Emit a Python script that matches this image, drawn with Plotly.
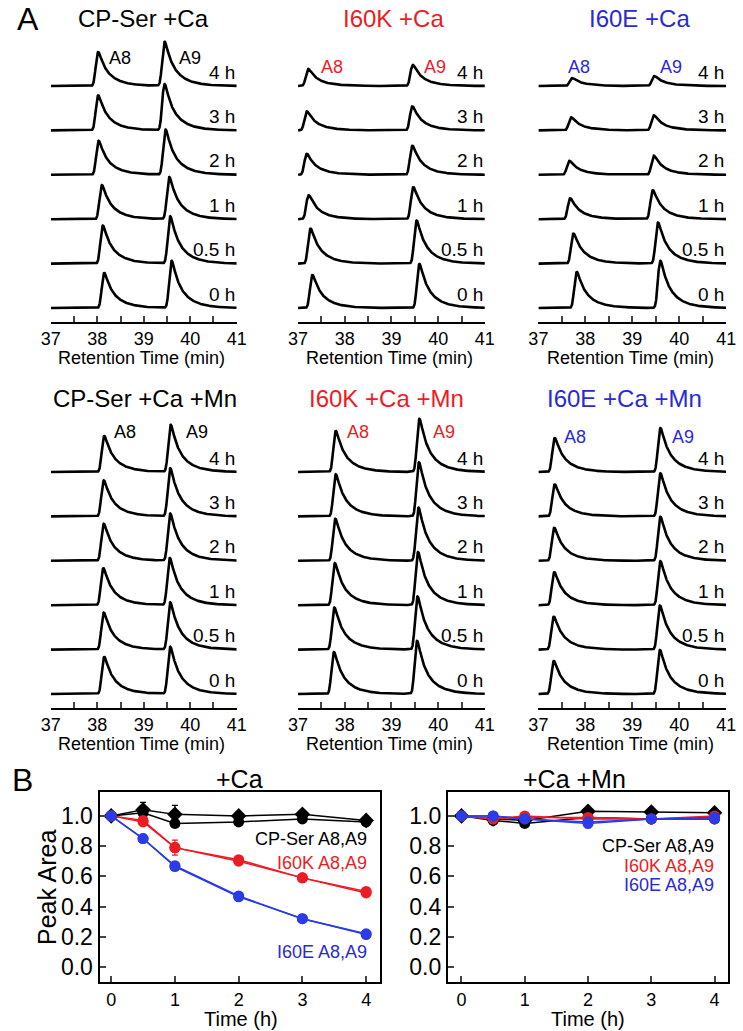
import numpy as np
import plotly.graph_objects as go

W, H = 743, 1031
FONT = "Liberation Sans, Arial, Helvetica, sans-serif"
RED = "#ec1c24"
BLUE = "#2b3be6"
BLUE_TXT = "#2a2ad2"

times = ["0 h", "0.5 h", "1 h", "2 h", "3 h", "4 h"]

# chromatogram peaks: retention time (min) and height, 0 h first
cp_ca_a8_rt = [38.15, 38.12, 38.10, 38.03, 38.02, 38.02]
cp_ca_a8_h = [35, 38, 34, 34, 35, 34]
cp_ca_a9_rt = [39.60, 39.57, 39.55, 39.47, 39.45, 39.45]
cp_ca_a9_h = [47, 47, 42, 45, 46, 44]

k_ca_a8_rt = [37.31, 37.27, 37.23, 37.19, 37.19, 37.22]
k_ca_a8_h = [33, 35, 24, 21, 19, 17]
k_ca_a9_rt = [39.60, 39.54, 39.47, 39.45, 39.45, 39.46]
k_ca_a9_h = [44, 43, 32, 29, 24, 21]

e_ca_a8_rt = [37.82, 37.75, 37.68, 37.66, 37.70, 37.72]
e_ca_a8_h = [36, 30, 21, 14, 13, 8]
e_ca_a9_rt = [39.60, 39.55, 39.44, 39.46, 39.46, 39.47]
e_ca_a9_h = [47, 41, 29, 19, 15, 10]

cp_mn_a8_rt = [38.15, 38.14, 38.13, 38.14, 38.14, 38.15]
cp_mn_a8_h = [37, 37, 37, 37, 36, 36]
cp_mn_a9_rt = [39.57, 39.57, 39.56, 39.57, 39.57, 39.58]
cp_mn_a9_h = [47, 47, 47, 47, 48, 47]

k_mn_a8_rt = [37.77, 37.78, 37.79, 37.80, 37.81, 37.81]
k_mn_a8_h = [42, 42, 42, 42, 42, 41]
k_mn_a9_rt = [39.55, 39.56, 39.57, 39.58, 39.59, 39.60]
k_mn_a9_h = [53, 53, 53, 53, 54, 53]

e_mn_a8_rt = [37.33, 37.33, 37.34, 37.34, 37.35, 37.35]
e_mn_a8_h = [33, 33, 33, 33, 32, 34]
e_mn_a9_rt = [39.59, 39.59, 39.60, 39.60, 39.60, 39.60]
e_mn_a9_h = [44, 44, 44, 44, 43, 44]

# peak area vs time
t_hours = [0, 0.5, 1, 2, 3, 4]
ca_cp_a8 = [1.0, 1.04, 1.01, 1.0, 1.01, 0.97]
ca_cp_a8_err = [0, 0.05, 0.06, 0.02, 0.02, 0.01]
ca_cp_a9 = [1.0, 1.02, 0.95, 0.96, 0.98, 0.96]
ca_cp_a9_err = [0, 0.02, 0.02, 0.02, 0.01, 0.01]
ca_k_a8 = [1.0, 0.97, 0.79, 0.71, 0.59, 0.50]
ca_k_a8_err = [0, 0.02, 0.05, 0.02, 0.02, 0.02]
ca_k_a9 = [1.0, 0.96, 0.79, 0.70, 0.59, 0.49]
ca_k_a9_err = [0, 0.02, 0.03, 0.02, 0.01, 0.02]
ca_e_a8 = [1.0, 0.85, 0.67, 0.47, 0.32, 0.22]
ca_e_a8_err = [0, 0.01, 0.01, 0.01, 0.01, 0.01]
ca_e_a9 = [1.0, 0.85, 0.665, 0.465, 0.32, 0.215]
ca_e_a9_err = [0, 0.01, 0.01, 0.01, 0.01, 0.01]

mn_cp_a8 = [1.0, 0.98, 0.97, 1.03, 1.025, 1.02]
mn_cp_a9 = [1.0, 0.97, 0.95, 0.99, 0.98, 0.98]
mn_cp_err = [0, 0.01, 0.01, 0.01, 0.01, 0.02]
mn_k_a8 = [1.0, 0.98, 1.0, 0.98, 0.98, 1.0]
mn_k_a9 = [1.0, 0.98, 0.99, 0.99, 0.98, 0.99]
mn_k_err = [0, 0.01, 0.01, 0.02, 0.01, 0.01]
mn_e_a8 = [1.0, 1.0, 0.98, 0.95, 0.98, 0.98]
mn_e_a9 = [1.0, 1.0, 0.98, 0.96, 0.98, 0.99]
mn_e_err = [0, 0.01, 0.01, 0.03, 0.01, 0.01]


def px(x, y):
    return x / W, 1 - y / H


# tailed peak shape (unit height), smoothed so the top is rounded
grid = np.linspace(-1.5, 3.0, 4501)
step = grid[1] - grid[0]
raw = np.where(grid < 0, 0.0, 0.45 * np.exp(-np.clip(grid, 0, None) / 0.12)
               + 0.55 * np.exp(-np.clip(grid, 0, None) / 0.30))
kx = np.arange(-0.15, 0.15 + step, step)
kern = np.exp(-0.5 * (kx / 0.035) ** 2)
shape = np.convolve(raw, kern / kern.sum(), mode="same")
shape = shape / shape.max()
shape_top = grid[np.argmax(shape)]


def peak(x, rt, h):
    return h * np.interp(x - rt + shape_top, grid, shape)


SPACING = 44.4
panels = [
    ("CP-Ser +Ca", "black", (42, 233), 0, (cp_ca_a8_rt, cp_ca_a8_h, cp_ca_a9_rt, cp_ca_a9_h), (100, 172, 58)),
    ("I60K +Ca", RED, (296, 488), 0, (k_ca_a8_rt, k_ca_a8_h, k_ca_a9_rt, k_ca_a9_h), (318, 423, 67)),
    ("I60E +Ca", BLUE_TXT, (543, 736), 0, (e_ca_a8_rt, e_ca_a8_h, e_ca_a9_rt, e_ca_a9_h), (571, 666, 67)),
    ("CP-Ser +Ca +Mn", "black", (42, 233), 1, (cp_mn_a8_rt, cp_mn_a8_h, cp_mn_a9_rt, cp_mn_a9_h), (105, 179, 432)),
    ("I60K +Ca +Mn", RED, (296, 488), 1, (k_mn_a8_rt, k_mn_a8_h, k_mn_a9_rt, k_mn_a9_h), (344, 433, 432)),
    ("I60E +Ca +Mn", BLUE_TXT, (543, 736), 1, (e_mn_a8_rt, e_mn_a8_h, e_mn_a9_rt, e_mn_a9_h), (567, 678, 437)),
]
title_pos = [(137, 18), (394, 18), (647, 18), (139, 398), (387, 398), (632, 398)]
row_y = [(30, 322), (416, 708)]

fig = go.Figure()
layout = dict(width=W, height=H, autosize=False, margin=dict(l=0, r=0, t=0, b=0),
              paper_bgcolor="white", plot_bgcolor="white", showlegend=False,
              font=dict(family=FONT, color="black"))
ann = []

xs = np.linspace(37, 41, 1201)
for i, (title, col, (x0, x1), row, pk, lab) in enumerate(panels):
    n = i + 1
    xa, ya = "x%d" % n, "y%d" % n
    a8_rt, a8_h, a9_rt, a9_h = pk
    for j in range(len(times)):
        off = j * SPACING
        ys = off + peak(xs, a8_rt[j], a8_h[j]) + peak(xs, a9_rt[j], a9_h[j])
        fig.add_trace(go.Scatter(x=xs, y=ys, mode="lines", xaxis=xa, yaxis=ya,
                                 line=dict(color="black", width=2.6), hoverinfo="skip"))
        ann.append(dict(x=41, y=off + 14, xref=xa, yref=ya, text=times[j], showarrow=False,
                        xanchor="right", yanchor="middle", font=dict(size=19, color="black")))
    py0, py1 = row_y[row]
    layout["xaxis%d" % n] = dict(domain=[x0 / W, x1 / W], anchor=ya, range=[37, 41],
                                 showline=True, linecolor="black", linewidth=1.6,
                                 ticks="inside", ticklen=6, tickwidth=1.6, dtick=1, tick0=37,
                                 minor=dict(dtick=0.5, ticks="inside", ticklen=6, tickwidth=1.6),
                                 showgrid=False, zeroline=False, tickfont=dict(size=18))
    layout["yaxis%d" % n] = dict(domain=[1 - py1 / H, 1 - py0 / H], anchor=xa, range=[-14, 278],
                                 visible=False)
    tx, ty = title_pos[i]
    ax, ay = px(tx, ty)
    ann.append(dict(x=ax, y=ay, xref="paper", yref="paper", text=title, showarrow=False,
                    xanchor="center", yanchor="middle", font=dict(size=24, color=col)))
    rx, ry = px((x0 + x1) / 2 - 2, py1 + 36)
    ann.append(dict(x=rx, y=ry, xref="paper", yref="paper", text="Retention Time (min)",
                    showarrow=False, xanchor="center", yanchor="middle", font=dict(size=18)))
    for lx, name in ((lab[0], "A8"), (lab[1], "A9")):
        lx_, ly_ = px(lx, lab[2])
        ann.append(dict(x=lx_, y=ly_, xref="paper", yref="paper", text=name, showarrow=False,
                        xanchor="left", yanchor="middle", font=dict(size=18, color=col)))

# panel B
b_series = [
    [(ca_cp_a9, ca_cp_a9_err, "black", "circle"), (ca_cp_a8, ca_cp_a8_err, "black", "diamond"),
     (ca_k_a9, ca_k_a9_err, RED, "circle"), (ca_k_a8, ca_k_a8_err, RED, "circle"),
     (ca_e_a9, ca_e_a9_err, BLUE, "circle"), (ca_e_a8, ca_e_a8_err, BLUE, "circle")],
    [(mn_cp_a9, mn_cp_err, "black", "circle"), (mn_cp_a8, mn_cp_err, "black", "diamond"),
     (mn_k_a9, mn_k_err, RED, "circle"), (mn_k_a8, mn_k_err, RED, "circle"),
     (mn_e_a9, mn_e_err, BLUE, "circle"), (mn_e_a8, mn_e_err, BLUE, "circle")],
]
b_dom = [(92, 380), (450, 738)]
b_xr = [[-0.183, 4.214], [-0.215, 4.215]]
b_titles = [("+Ca", 236), ("+Ca +Mn", 580)]
b_xtitle = [237, 594]
b_legend = [[("CP-Ser A8,A9", "black", 0.85), ("I60K A8,A9", RED, 0.69), ("I60E A8,A9", BLUE_TXT, 0.10)],
            [("CP-Ser A8,A9", "black", 0.80), ("I60K A8,A9", RED, 0.67), ("I60E A8,A9", BLUE_TXT, 0.54)]]
b_legend_x = [369, 726]
for k in range(2):
    n = 7 + k
    xa, ya = "x%d" % n, "y%d" % n
    for vals, err, col, sym in b_series[k]:
        fig.add_trace(go.Scatter(x=t_hours, y=vals, mode="lines+markers", xaxis=xa, yaxis=ya,
                                 line=dict(color=col, width=1.5),
                                 marker=dict(color=col, size=11 if sym == "circle" else 12, symbol=sym),
                                 error_y=dict(type="data", array=err, color=col, thickness=1.3, width=3)))
    x0, x1 = b_dom[k]
    layout["xaxis%d" % n] = dict(domain=[x0 / W, x1 / W], anchor=ya, range=b_xr[k],
                                 showline=True, mirror=True, linecolor="black", linewidth=2,
                                 ticks="inside", ticklen=6, tickwidth=1.5, dtick=1, tick0=0,
                                 showgrid=False, zeroline=False, tickfont=dict(size=18))
    layout["yaxis%d" % n] = dict(domain=[1 - 982 / H, 1 - 792 / H], anchor=xa, range=[-0.099, 1.158],
                                 showline=True, mirror=True, linecolor="black", linewidth=2,
                                 ticks="inside", ticklen=6, tickwidth=1.5, dtick=0.2, tick0=0,
                                 tickformat=".1f", showgrid=False, zeroline=False, tickfont=dict(size=23))
    t, tx = b_titles[k]
    ax, ay = px(tx, 779)
    ann.append(dict(x=ax, y=ay, xref="paper", yref="paper", text=t, showarrow=False,
                    xanchor="center", yanchor="middle", font=dict(size=25)))
    ax, ay = px(b_xtitle[k], 1019)
    ann.append(dict(x=ax, y=ay, xref="paper", yref="paper", text="Time (h)", showarrow=False,
                    xanchor="center", yanchor="middle", font=dict(size=20)))
    for txt, col, yv in b_legend[k]:
        lx, _ = px(b_legend_x[k], 0)
        ann.append(dict(x=lx, y=yv, xref="paper", yref=ya, text=txt, showarrow=False,
                        xanchor="right", yanchor="middle", font=dict(size=18, color=col)))

ax, ay = px(38, 887)
ann.append(dict(x=ax, y=ay, xref="paper", yref="paper", text="Peak Area", showarrow=False,
                textangle=-90, xanchor="center", yanchor="middle", font=dict(size=25)))
for letter, lx, ly in (("A", 19, 19), ("B", 13, 780)):
    ax, ay = px(lx, ly)
    ann.append(dict(x=ax, y=ay, xref="paper", yref="paper", text=letter, showarrow=False,
                    xanchor="center", yanchor="middle", font=dict(size=32)))

layout["annotations"] = ann
fig.update_layout(**layout)
fig.write_html("out.html", config={"displayModeBar": False},
               post_script="document.body.style.margin='0';")
